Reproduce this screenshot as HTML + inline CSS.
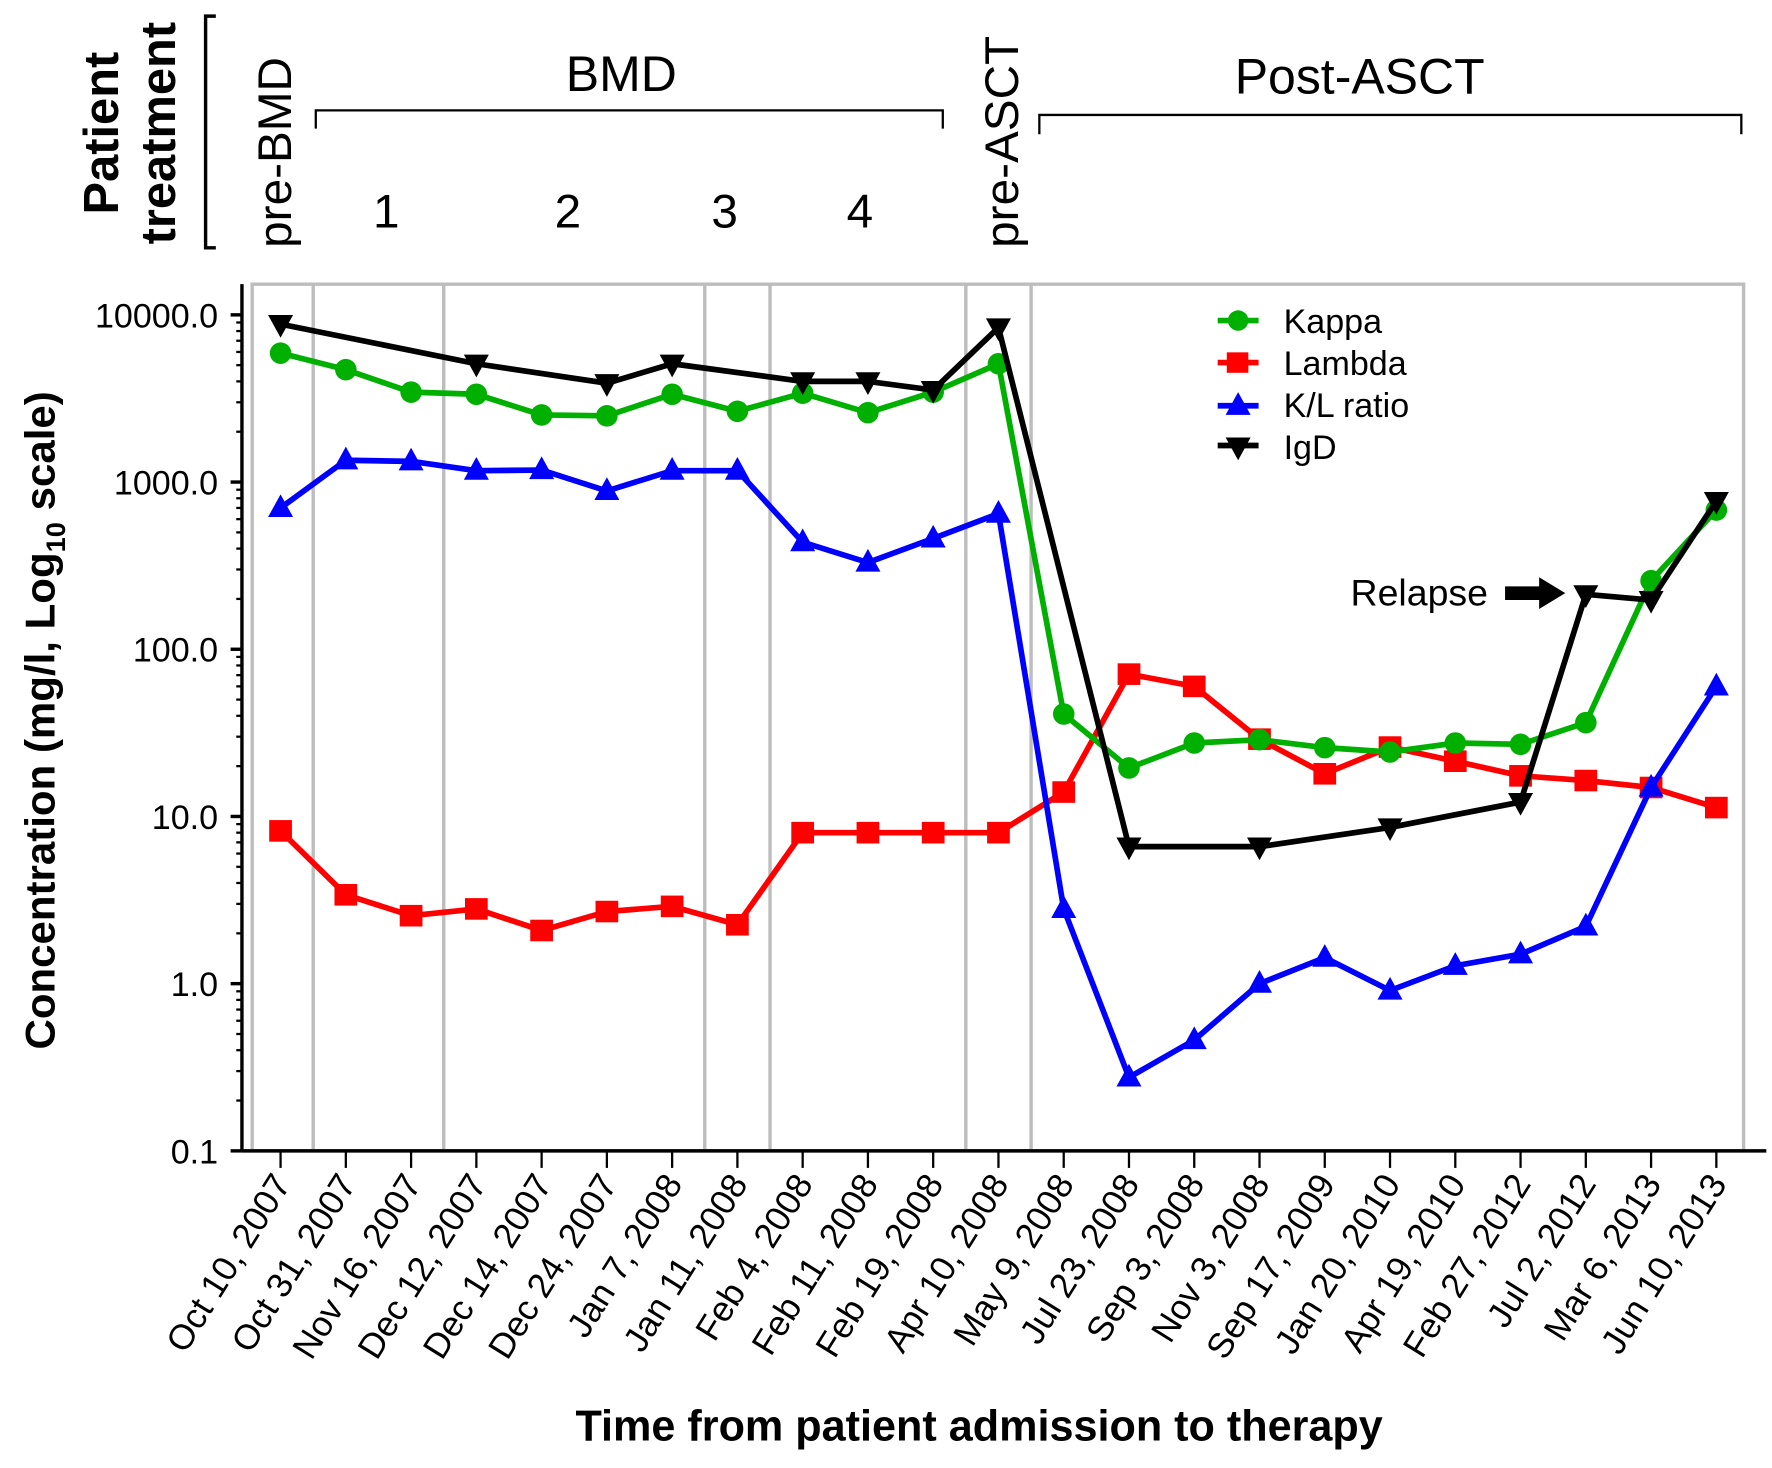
<!DOCTYPE html>
<html><head><meta charset="utf-8"><style>
html,body{margin:0;padding:0;background:#fff}
svg{display:block}
text{font-family:"Liberation Sans",Arial,sans-serif}
</style></head><body>
<svg id="chart" width="1772" height="1468" viewBox="0 0 1560 1292" xmlns="http://www.w3.org/2000/svg">
<g>
 <text transform="translate(104,117) rotate(-90)" text-anchor="middle" font-size="43" font-weight="bold">Patient</text>
 <text transform="translate(154,117) rotate(-90)" text-anchor="middle" font-size="43" font-weight="bold">treatment</text>
 <path d="M190,14 L181,14 L181,218 L190,218" fill="none" stroke="#000" stroke-width="3"/>
 <text transform="translate(256,218) rotate(-90)" font-size="42">pre-BMD</text>
 <text x="547" y="80" text-anchor="middle" font-size="44">BMD</text>
 <path d="M278,113 L278,97 L830,97 L830,113" fill="none" stroke="#000" stroke-width="2"/>
 <text x="340" y="200" text-anchor="middle" font-size="42">1</text>
 <text x="500" y="200" text-anchor="middle" font-size="42">2</text>
 <text x="638" y="200" text-anchor="middle" font-size="42">3</text>
 <text x="757" y="200" text-anchor="middle" font-size="42">4</text>
 <text transform="translate(896,218) rotate(-90)" font-size="42">pre-ASCT</text>
 <text x="1197" y="82" text-anchor="middle" font-size="44">Post-ASCT</text>
 <path d="M915,118 L915,101 L1533,101 L1533,118" fill="none" stroke="#000" stroke-width="2"/>
</g>
<g id="grid"></g>
<g id="axes"></g>
<g id="series"></g>
<g>
 <g><line x1="1072" y1="282" x2="1108" y2="282" stroke="#00b000" stroke-width="5"/><circle cx="1090" cy="282" r="9" fill="#00b000"/><text x="1130" y="293" font-size="30">Kappa</text></g>
 <g><line x1="1072" y1="319" x2="1108" y2="319" stroke="#f00" stroke-width="5"/><rect x="1080" y="310" width="19" height="18" fill="#f00"/><text x="1130" y="330" font-size="30">Lambda</text></g>
 <g><line x1="1072" y1="357" x2="1108" y2="357" stroke="#00f" stroke-width="5"/><path d="M1090,345 L1101,365 L1079,365 Z" fill="#00f"/><text x="1130" y="367" font-size="30">K/L ratio</text></g>
 <g><line x1="1072" y1="392" x2="1108" y2="392" stroke="#000" stroke-width="5"/><path d="M1079,385 L1101,385 L1090,405 Z" fill="#000"/><text x="1130" y="404" font-size="30">IgD</text></g>
</g>
<g>
 <text x="1310" y="533" text-anchor="end" font-size="33">Relapse</text>
 <path d="M1325,516 L1355,516 L1355,508 L1378,522 L1355,536 L1355,528 L1325,528 Z" fill="#000"/>
</g>
<text transform="translate(48,634) rotate(-90)" text-anchor="middle" font-size="37" font-weight="bold">Concentration (mg/l, Log<tspan font-size="24" dy="9">10</tspan><tspan dy="-9"> scale)</tspan></text>
<text x="862" y="1268" text-anchor="middle" font-size="38" font-weight="bold">Time from patient admission to therapy</text>
</svg>
<script>
const categories=["Oct 10, 2007","Oct 31, 2007","Nov 16, 2007","Dec 12, 2007","Dec 14, 2007","Dec 24, 2007","Jan 7, 2008","Jan 11, 2008","Feb 4, 2008","Feb 11, 2008","Feb 19, 2008","Apr 10, 2008","May 9, 2008","Jul 23, 2008","Sep 3, 2008","Nov 3, 2008","Sep 17, 2009","Jan 20, 2010","Apr 19, 2010","Feb 27, 2012","Jul 2, 2012","Mar 6, 2013","Jun 10, 2013"];
const kappa=[5900,4700,3450,3350,2520,2490,3350,2650,3400,2600,3450,5100,41,19.5,27.5,28.8,25.8,24.3,27.5,27,36.4,257,680];
const lambda=[8.2,3.4,2.55,2.8,2.08,2.7,2.9,2.25,8,8,8,8,14,71,60,29,18,26,21.4,17.5,16.4,14.9,11.3];
const klRatio=[700,1350,1330,1170,1180,885,1170,1170,437,330,460,647,2.8,0.275,0.46,1.0,1.43,0.91,1.28,1.5,2.2,14.9,60];
const igd=[8800,null,null,5100,null,3900,5100,null,4000,4000,3550,8400,null,6.6,null,6.6,null,8.6,null,12.2,213,197,770];
const yTicks=[10000,1000,100,10,1,0.1];
const yTickLabels=["10000.0","1000.0","100.0","10.0","1.0","0.1"];
const phaseBoundaries=[0.5,2.5,6.5,7.5,10.5,11.5];

const NS="http://www.w3.org/2000/svg";
const X0=247,DX=(1511-247)/22,Y10000=277,DEC=147.2;
function xs(i){return X0+i*DX;}
function ys(v){return Y10000+(4-Math.log10(v))*DEC;}
function mk(tag,attrs,parent){const e=document.createElementNS(NS,tag);for(const k in attrs)e.setAttribute(k,attrs[k]);parent.appendChild(e);return e;}
const grid=document.getElementById('grid'),axes=document.getElementById('axes'),series=document.getElementById('series');
const box=mk('rect',{x:222,y:250,width:1313,height:763,fill:'none',stroke:'#bdbdbd','stroke-width':3},grid);


phaseBoundaries.forEach(b=>{
 const l=mk('line',{x1:xs(b),x2:xs(b),y1:250,y2:1013,stroke:'#bdbdbd','stroke-width':3},grid);
 
 
});
const ya=mk('line',{x1:213,x2:213,y1:250,y2:1013,stroke:'#000','stroke-width':3},axes);


const xa=mk('line',{x1:213,x2:1555,y1:1013,y2:1013,stroke:'#000','stroke-width':3},axes);


yTicks.forEach((t,i)=>{
 const y=ys(t);
 mk('line',{x1:203,x2:213,y1:y,y2:y,stroke:'#000','stroke-width':3},axes);
 const tx=mk('text',{x:192,y:y+11,'text-anchor':'end','font-size':30},axes);
 tx.textContent=yTickLabels[i];
 
 
 if(t>0.1){for(let m=2;m<10;m++){const yy=ys(t/10*m);mk('line',{x1:208,x2:213,y1:yy,y2:yy,stroke:'#000','stroke-width':2},axes);}}
});
categories.forEach((c,i)=>{
 const x=xs(i);
 mk('line',{x1:x,x2:x,y1:1013,y2:1028,stroke:'#000','stroke-width':2},axes);
 const tx=mk('text',{transform:`translate(${x+10},1042) rotate(-58)`,'text-anchor':'end','font-size':31},axes);
 tx.textContent=c;
 
 
});
function draw(vals,color,shape,name){
 const g=mk('g',{},series);
 
 
 let d='';vals.forEach((v,i)=>{if(v==null)return;d+=(d?'L':'M')+xs(i)+','+ys(v);});
 const p=mk('path',{d:d,fill:'none',stroke:color,'stroke-width':5,'stroke-linejoin':'round'},g);
 
 
 vals.forEach((v,i)=>{if(v==null)return;const x=xs(i),y=ys(v);let m;
  if(shape==='circle')m=mk('circle',{cx:x,cy:y,r:9.5,fill:color},g);
  else if(shape==='square')m=mk('rect',{x:x-10,y:y-9.5,width:20,height:19,fill:color},g);
  else if(shape==='up')m=mk('path',{d:`M${x},${y-12}L${x+11},${y+8}L${x-11},${y+8}Z`,fill:color},g);
  else m=mk('path',{d:`M${x-11},${y-8}L${x+11},${y-8}L${x},${y+12}Z`,fill:color},g);
  
  
 });
}
draw(lambda,'#f00','square','lambda');
draw(kappa,'#00b000','circle','kappa');
draw(klRatio,'#00f','up','kl-ratio');
draw(igd,'#000','down','igd');
</script>
</body></html>
